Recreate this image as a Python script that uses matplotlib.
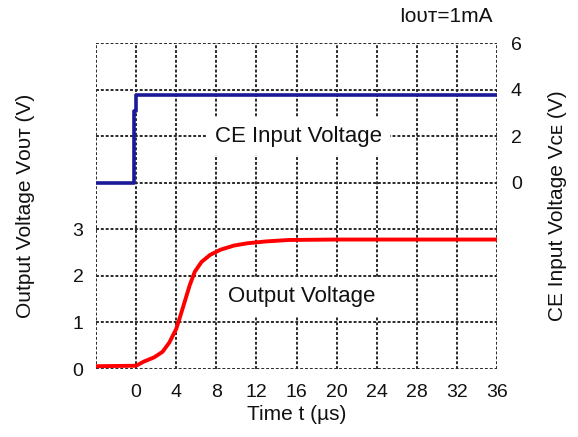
import matplotlib
matplotlib.use("Agg")
import matplotlib.pyplot as plt

plt.rcParams['font.family'] = ['Liberation Sans', 'DejaVu Sans']

# Output voltage (left axis, V) vs time (us)
t_out = [-4, 0, 0.78, 1.8, 2.64, 3.32, 4.0, 4.33, 4.84, 5.35, 5.86, 6.53, 7.38, 8.4,
         9.75, 11.1, 13.0, 15.2, 20, 36]
v_out = [0.06, 0.07, 0.16, 0.25, 0.37, 0.57, 0.86, 1.08, 1.44, 1.8, 2.09, 2.3, 2.45, 2.56,
         2.65, 2.7, 2.74, 2.77, 2.78, 2.78]

# CE input voltage (right axis, V) vs time (us)
t_ce = [-4, -0.25, -0.25, 0, 0, 36]
v_ce = [0, 0, 3.1, 3.1, 3.76, 3.76]

x_ticks = [0, 4, 8, 12, 16, 20, 24, 28, 32, 36]
left_ticks = [0, 1, 2, 3]
right_ticks = [0, 2, 4, 6]

fig = plt.figure(figsize=(5.78, 4.37), dpi=100)
ax = fig.add_axes([96/578, 68/437, 401/578, 326/437])
ax2 = ax.twinx()

grid_kw = dict(color='#2a2a2a', lw=1.4, ls=(0, (1.5, 1)), zorder=1)
for x in range(-4, 37, 4):
    ax.axvline(x, **grid_kw)
for y in range(0, 8):
    ax.axhline(y, **grid_kw)

ax.plot(t_out, v_out, color='#ff0000', lw=2.8, zorder=3, solid_joinstyle='round')
ax2.plot(t_ce, v_ce, color='#1a1a99', lw=2.6, zorder=3)

ax.set_xlim(-4, 36)
ax.set_ylim(0, 7)
ax2.set_ylim(-8, 6)

for a in (ax, ax2):
    for s in a.spines.values():
        s.set_visible(False)

ax.set_xticks(x_ticks)
ax.set_yticks(left_ticks)
ax2.set_yticks(right_ticks)
ax.tick_params(axis='both', length=0, labelsize=14, labelcolor='#111111')
ax.tick_params(axis='x', pad=11)
ax.tick_params(axis='y', pad=9)
ax2.tick_params(axis='y', length=0, labelsize=14, pad=10, labelcolor='#111111')

ax.set_xlabel('Time t (µs)', fontsize=15, labelpad=3, color='#111111')
ax.set_ylabel('Output Voltage Vᴏᴜᴛ (V)', fontsize=15, labelpad=27, color='#111111')
ax2.set_ylabel('CE Input Voltage Vᴄᴇ (V)', fontsize=15, labelpad=19, color='#111111')

box = dict(facecolor='white', edgecolor='none', pad=6)
ax.text(16.2, 5.0, 'CE Input Voltage', fontsize=16, ha='center', va='center',
        bbox=box, zorder=4, color='#111111')
ax.text(16.5, 1.55, 'Output Voltage', fontsize=16, ha='center', va='center',
        bbox=box, zorder=4, color='#111111')
fig.text(493/578, 1 - 17/437, 'Iᴏᴜᴛ=1mA', fontsize=15, ha='right', va='center',
         color='#111111')

fig.savefig('out.png', dpi=100)
